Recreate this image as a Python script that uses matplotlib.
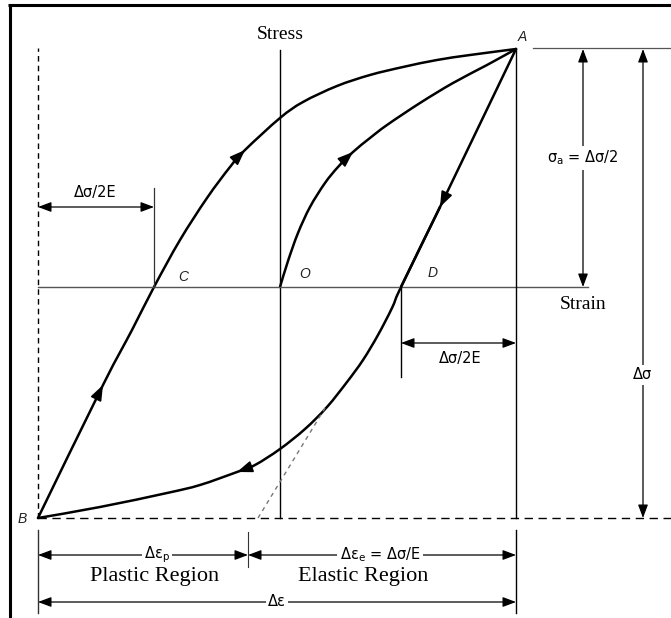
import numpy as np
import matplotlib
matplotlib.use("Agg")
import matplotlib.pyplot as plt
from matplotlib.path import Path
from matplotlib.patches import PathPatch

# strain (x) and stress (y), origin at O
loop_up_strain = [-2.42, -1.77, -1.48, -1.26, -1.00, -0.73, -0.50, -0.35, 0.00,
                  0.23, 0.57, 0.90, 1.23, 1.57, 1.90, 2.36]
loop_up_stress = [-2.31, -0.98, -0.43, 0.00, 0.47, 0.89, 1.20, 1.37, 1.69,
                  1.85, 2.01, 2.12, 2.20, 2.27, 2.32, 2.38]
loop_down_strain = [2.36, 1.60, 1.21, 1.12, 0.98, 0.83, 0.67, 0.47, 0.25, 0.00,
                    -0.25, -0.43, -0.80, -1.13, -1.80, -2.42]
loop_down_stress = [2.38, 0.80, 0.00, -0.21, -0.48, -0.73, -0.95, -1.20, -1.42, -1.62,
                    -1.78, -1.85, -1.98, -2.06, -2.20, -2.31]
first_strain = [0.00, 0.08, 0.18, 0.30, 0.45, 0.58, 0.73, 0.90, 1.07, 1.40, 1.73, 2.07, 2.36]
first_stress = [0.00, 0.26, 0.54, 0.80, 1.04, 1.20, 1.35, 1.49, 1.62, 1.84, 2.04, 2.22, 2.38]
elastic_strain = [-0.22, 0.45]
elastic_stress = [-2.31, -1.21]

# arrows drawn on the curves (index of the tip point)
up_arrows = [1, 7]
down_arrows = [1, 11]
first_arrows = [6]

point_names = ["A", "B", "C", "O", "D"]
point_strain = [2.36, -2.42, -1.26, 0.00, 1.21]
point_stress = [2.38, -2.31, 0.00, 0.00, 0.00]

SERIF = "Liberation Serif"
SANS = "DejaVu Sans"


def smooth_path(xs, ys):
    # catmull-rom through the read points, drawn as bezier pieces
    p = np.column_stack([xs, ys])
    verts = [p[0]]
    codes = [Path.MOVETO]
    n = len(p)
    for i in range(n - 1):
        p0 = p[i - 1] if i > 0 else p[i]
        p3 = p[i + 2] if i + 2 < n else p[i + 1]
        c1 = p[i] + (p[i + 1] - p0) / 6
        c2 = p[i + 1] - (p3 - p[i]) / 6
        verts += [c1, c2, p[i + 1]]
        codes += [Path.CURVE4] * 3
    return Path(verts, codes)


def draw_curve(ax, xs, ys):
    ax.add_patch(PathPatch(smooth_path(xs, ys), fc="none", ec="black", lw=1.8,
                           joinstyle="round", capstyle="round"))


def curve_arrow(ax, xs, ys, i):
    tip = np.array([xs[i], ys[i]])
    d = np.array([xs[i + 1] - xs[i - 1], ys[i + 1] - ys[i - 1]])
    d = d / np.hypot(*d)
    ax.annotate("", xy=tip, xytext=tip - 0.16 * d,
                arrowprops=dict(arrowstyle="-|>,head_length=0.85,head_width=0.32",
                                mutation_scale=11, lw=1.2, color="black",
                                shrinkA=0, shrinkB=0))


def dim_arrow(ax, p1, p2):
    ax.annotate("", xy=p2, xytext=p1,
                arrowprops=dict(arrowstyle="<|-|>,head_length=0.8,head_width=0.3",
                                mutation_scale=10, lw=0.9, color="black",
                                shrinkA=0, shrinkB=0))


fig = plt.figure(figsize=(6.71, 6.18), dpi=100)
ax = fig.add_axes([0, 0, 1, 1])
ax.set_xlim(-2.80, 3.91)
ax.set_ylim(-3.31, 2.87)
ax.axis("off")

xa, ya = point_strain[0], point_stress[0]
xb, yb = point_strain[1], point_stress[1]
xc = point_strain[2]
xd = point_strain[4]

# frame pieces
ax.plot([-2.705, -2.705], [-3.31, 2.815], color="black", lw=2.2, solid_capstyle="butt")
ax.plot([-2.72, 3.91], [2.815, 2.815], color="black", lw=2.2, solid_capstyle="butt")

# axes and guide lines
ax.plot([0, 0], [yb, 2.37], color="black", lw=1.0)
ax.plot([xb, 3.08], [0, 0], color="#555555", lw=1.0)
ax.plot([xb, xb], [yb, 2.39], color="black", lw=1.0, ls=(0, (4, 3)))
ax.plot([xb, 3.91], [yb, yb], color="black", lw=1.0, ls=(0, (6, 4)))
ax.plot([xa, xa], [ya, yb], color="black", lw=1.0)
ax.plot([xa, xa], [-2.43, -3.26], color="black", lw=1.0)
ax.plot([xb, xb], [-2.43, -3.26], color="#333333", lw=1.0)
ax.plot([-0.32, -0.32], [-2.45, -2.80], color="#333333", lw=0.8)
ax.plot([2.53, 3.91], [ya + 0.01, ya + 0.01], color="#555555", lw=0.9)
ax.plot([xc, xc], [0, 0.99], color="#333333", lw=0.9)
ax.plot([xd, xd], [0, -0.90], color="black", lw=1.0)
ax.plot(elastic_strain, elastic_stress, color="#777777", lw=1.0, ls=(0, (3, 3)))

# hysteresis loop and first loading
draw_curve(ax, loop_up_strain, loop_up_stress)
# unloading A -> D is a straight elastic line, then the curved part
ax.plot(loop_down_strain[:3], loop_down_stress[:3], color="black", lw=1.8,
        solid_capstyle="round")
draw_curve(ax, loop_down_strain[1:], loop_down_stress[1:])
draw_curve(ax, first_strain, first_stress)
for i in up_arrows:
    curve_arrow(ax, loop_up_strain, loop_up_stress, i)
for i in down_arrows:
    curve_arrow(ax, loop_down_strain, loop_down_stress, i)
for i in first_arrows:
    curve_arrow(ax, first_strain, first_stress, i)

# point labels
label_off = {"A": (0.06, 0.12), "B": (-0.16, -0.01), "C": (0.29, 0.10),
             "O": (0.25, 0.13), "D": (0.32, 0.14)}
for name, sx, sy in zip(point_names, point_strain, point_stress):
    dx, dy = label_off[name]
    ax.text(sx + dx, sy + dy, name, fontsize=10, style="italic", family="Liberation Sans",
            ha="center", va="center", color="#222222")

# dimension arrows
white = dict(boxstyle="square,pad=0.15", fc="white", ec="none")
dim_arrow(ax, (xb, 0.80), (xc, 0.80))
ax.text(-1.85, 0.94, "Δσ/2E", family=SANS, fontsize=10.5, ha="center", va="center")
dim_arrow(ax, (xd, -0.56), (xa, -0.56))
ax.text(1.80, -0.72, "Δσ/2E", family=SANS, fontsize=10.5, ha="center", va="center")
dim_arrow(ax, (3.03, 0.0), (3.03, ya))
ax.text(3.03, 1.29, "σ$_\\mathrm{a}$ = Δσ/2", family=SANS, fontsize=10.5,
        ha="center", va="center", bbox=white)
dim_arrow(ax, (3.63, yb), (3.63, ya))
ax.text(3.63, -0.88, "Δσ", family=SANS, fontsize=10.5, ha="center", va="center", bbox=white)

dim_arrow(ax, (xb, -2.68), (-0.32, -2.68))
ax.text(-1.23, -2.68, "Δε$_\\mathrm{p}$", family=SANS, fontsize=10.5,
        ha="center", va="center", bbox=white)
dim_arrow(ax, (-0.32, -2.68), (xa, -2.68))
ax.text(1.00, -2.68, "Δε$_\\mathrm{e}$ = Δσ/E", family=SANS, fontsize=10.5,
        ha="center", va="center", bbox=white)
dim_arrow(ax, (xb, -3.15), (xa, -3.15))
ax.text(-0.03, -3.15, "Δε", family=SANS, fontsize=10.5, ha="center", va="center", bbox=white)

# titles of regions and axes
ax.text(-1.25, -2.89, "Plastic Region", family=SERIF, fontsize=16, ha="center", va="center")
ax.text(0.83, -2.89, "Elastic Region", family=SERIF, fontsize=16, ha="center", va="center")
ax.text(0.0, 2.52, "Stress", family=SERIF, fontsize=14, ha="center", va="center",
        bbox=dict(boxstyle="square,pad=0.1", fc="white", ec="none"))
ax.text(3.03, -0.18, "Strain", family=SERIF, fontsize=14, ha="center", va="center")

fig.savefig("out.png", dpi=100)
